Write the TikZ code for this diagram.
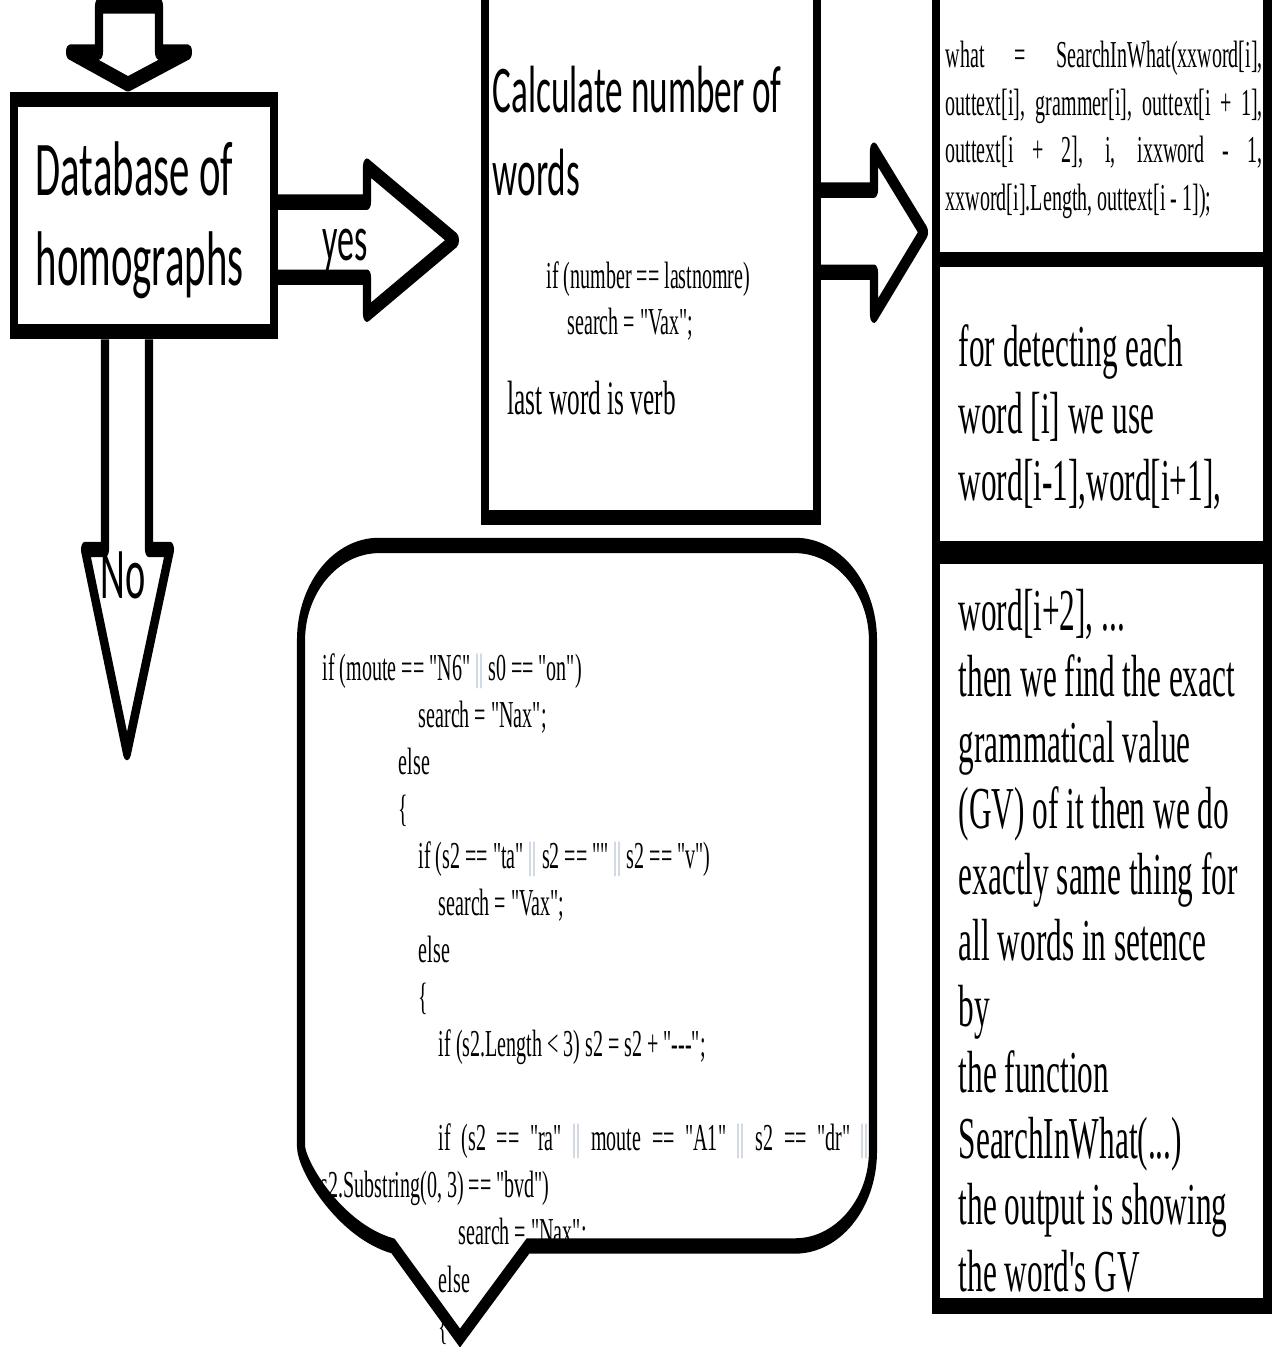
\documentclass[tikz,border=0pt]{standalone}
\usepackage{fontspec}
\setmainfont{Liberation Serif}[Ligatures=TeXOff]
\newfontfamily\calfont{Carlito}
\usetikzlibrary{fit}
\definecolor{pipe}{RGB}{165,180,200}
\newcommand{\orbar}{\textcolor{pipe}{||}}
\tikzset{
  outline/.style={line width=2.3pt},
  blockarrow/.style={outline, line join=round},
  box/.style={outline, draw, inner sep=0pt},
  txt/.style={inner sep=0pt, anchor=base west, align=left},
  code/.style={txt, font=\fontsize{5.7}{7.04}\selectfont},
}

\begin{document}
\begin{tikzpicture}[x=0.01cm, y=-0.01cm]
  % page
  \fill[white, use as bounding box] (0,0) rectangle (1275,1347);

  \begin{scope}[y=-0.005263cm, transform canvas={yscale=1.9}]
    % boxes
    \node[box, fit={(14,99.5) (274,331.5)}] (db) {};
    \node[box, fit={(485,-20) (817,517)}] (calc) {};
    \node[box, fit={(936,-20) (1267.5,259)}] (what) {};
    \node[box, fit={(936,259) (1267.5,548)}] (detect) {};
    \node[box, fit={(936,556) (1267.5,1305)}] (explain) {};

    % block arrows
    \draw[blockarrow] (99,6) -- (99,52) -- (70,52) -- (128,84) -- (188,52)
      -- (159,52) -- (159,6) -- cycle;
    \draw[blockarrow] (db.east |- 0,202) -- (367,202) -- (367,166) -- (455,240)
      -- (367,314) -- (367,277) -- (db.east |- 0,277);
    \draw[blockarrow] (db.south -| 105,0) -- (105,549) -- (85,549) -- (127,752)
      -- (170,549) -- (149,549) -- (db.south -| 149,0);
    \draw[blockarrow] (calc.east |- 0,190) -- (874,190) -- (874,150) -- (924,232)
      -- (874,315) -- (874,272) -- (calc.east |- 0,272);

    % labels (anchor = baseline of the last line)
    \node[txt, font=\calfont\fontsize{11.6}{13.4}\selectfont] (dbtext) at (35,285)
      {Database of\\homographs};
    \node[txt, font=\calfont\fontsize{9.7}{11}\selectfont] (yes) at (322,260) {yes};
    \node[txt, font=\calfont\fontsize{10.9}{12}\selectfont] (no) at (100,598) {No};

    \node[txt, font=\calfont\fontsize{10}{12.4}\selectfont] (calctext) at (492,195)
      {Calculate number of\\words};
    \node[code] (last1) at (546,288) {if (number == lastnomre)};
    \node[code] (last2) at (567,334) {search = "Vax";};
    \node[txt, font=\fontsize{7.2}{8}\selectfont] (verb) at (507,414) {last word is verb};

    \node[code, font=\fontsize{5.7}{7.1}\selectfont] (call) at (945,210)
      {\makebox[3.17cm][s]{what = SearchInWhat(xxword[i],}\\
       \makebox[3.17cm][s]{outtext[i], grammer[i], outtext[i + 1],}\\
       \makebox[3.17cm][s]{outtext[i + 2], i, ixxword - 1,}\\
       xxword[i].Length, outtext[i - 1]);};

    \node[txt, font=\fontsize{8.9}{10}\selectfont] (detecttext) at (958,500)
      {for detecting each\\word [i] we use\\word[i-1],word[i+1],};
    \node[txt, font=\fontsize{8.9}{9.88}\selectfont] (explaintext) at (958,1290)
      {word[i+2], ...\\
       then we find the exact\\
       grammatical value\\
       (GV) of it then we do\\
       exactly same thing for\\
       all words in setence\\
       by\\
       the function\\
       SearchInWhat(...)\\
       the output is showing\\
       the word's GV};

    % callout with code
    \node[code] (rules) at (322,1338)
      {if (moute == "N6" \orbar{} s0 == "on")\\
       \hspace*{0.96cm}search = "Nax";\\
       \hspace*{0.76cm}else\\
       \hspace*{0.76cm}\{\\
       \hspace*{0.96cm}if (s2 == "ta" \orbar{} s2 == "" \orbar{} s2 == "v")\\
       \hspace*{1.16cm}search = "Vax";\\
       \hspace*{0.96cm}else\\
       \hspace*{0.96cm}\{\\
       \hspace*{1.16cm}if (s2.Length < 3) s2 = s2 + "-{}-{}-";\\
       \mbox{}\\
       \hspace*{1.16cm}\makebox[4.3cm][s]{if (s2 == "ra" \orbar{} moute == "A1" \orbar{} s2 == "dr" \orbar}\\
       \hspace*{-0.02cm}s2.Substring(0, 3) == "bvd")\\
       \hspace*{1.36cm}search = "Nax";\\
       \hspace*{1.16cm}else\\
       \hspace*{1.16cm}\{};
    \draw[outline] (528,1245) -- (795,1245)
      .. controls (838,1245) and (873,1202.5) .. (873,1150) -- (873,640)
      .. controls (873,587.5) and (838,545) .. (795,545) -- (379,545)
      .. controls (336,545) and (301,587.5) .. (301,640) -- (301,1145)
      .. controls (301,1165) and (340,1230) .. (393,1245)
      -- (460,1337) -- cycle;
  \end{scope}
\end{tikzpicture}
\end{document}
